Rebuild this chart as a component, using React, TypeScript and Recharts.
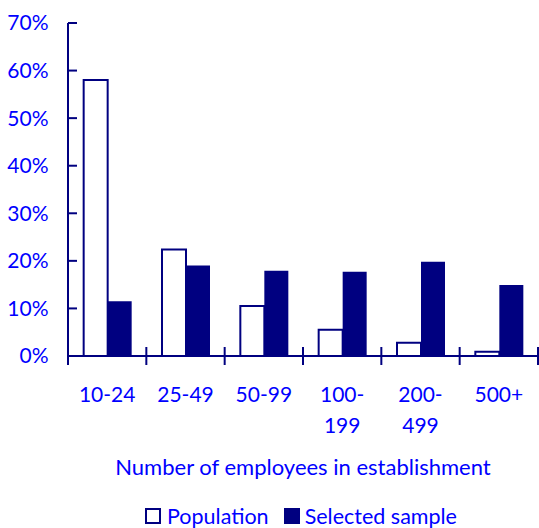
import React from 'react';
import { BarChart, Bar, XAxis, YAxis, Legend } from 'recharts';

const CATEGORIES = ['10-24', '25-49', '50-99', '100-199', '200-499', '500+'];
const POPULATION = [58.0, 22.4, 10.5, 5.5, 2.8, 0.9];
const SELECTED = [11.5, 19.0, 17.9, 17.7, 19.8, 14.9];
const Y_TICKS = [0, 10, 20, 30, 40, 50, 60, 70];

const NAVY = '#000080';
const BLUE = '#0000ff';
const FONT = 'Lato, "Open Sans", sans-serif';

const data = CATEGORIES.map((name, i) => ({
  name,
  population: POPULATION[i],
  selected: SELECTED[i],
}));

const axisStroke = { stroke: NAVY, strokeWidth: 2 };
// axes must have a non-zero height to render; keep them practically flat
const FLAT = 0.01;
const X_LABEL_GAP = 31;
const Y_LABEL_GAP = 19.5;
const TICK_LEN = 9;

// Category label, wrapped after the hyphen for "100-199" style ranges,
// plus the cross tick marks on the category boundaries.
const CategoryTick = ({ x, y, payload, index, width, visibleTicksCount }: any) => {
  const value: string = payload.value;
  const m = value.match(/^(\d{3}-)(\d+)$/);
  const lines = m ? [m[1], m[2]] : [value];
  const band = width / visibleTicksCount;
  const axisY = y - X_LABEL_GAP;
  const edges = index === visibleTicksCount - 1 ? [x - band / 2, x + band / 2] : [x - band / 2];
  return (
    <g>
      {edges.map((ex, i) => (
        <line key={i} x1={ex} x2={ex} y1={axisY - TICK_LEN} y2={axisY + TICK_LEN} stroke={NAVY} strokeWidth={2} />
      ))}
      <text x={x} y={y} textAnchor="middle" fill={BLUE} fontSize={21} fontFamily={FONT}>
        {lines.map((line, i) => (
          <tspan key={i} x={x} dy={i === 0 ? '0.71em' : 30.7}>
            {line}
          </tspan>
        ))}
      </text>
    </g>
  );
};

// Percent label with the tick mark pointing into the plot
const PercentTick = ({ x, y, payload }: any) => {
  const axisX = x + Y_LABEL_GAP;
  return (
    <g>
      <line x1={axisX} x2={axisX + TICK_LEN} y1={y} y2={y} stroke={NAVY} strokeWidth={2} />
      <text x={x} y={y} dy="0.355em" textAnchor="end" fill={BLUE} fontSize={21} fontFamily={FONT}>
        {`${payload.value}%`}
      </text>
    </g>
  );
};

const LegendContent = () => (
  <div
    style={{
      height: 24,
      lineHeight: '24px',
      display: 'flex',
      justifyContent: 'center',
      alignItems: 'center',
      paddingLeft: 64,
      fontFamily: FONT,
      fontSize: 21.5,
      color: BLUE,
    }}
  >
    <span style={{ width: 12, height: 12, border: `2px solid ${NAVY}`, background: '#fff', marginRight: 6 }} />
    <span style={{ marginRight: 15 }}>Population</span>
    <span style={{ width: 16, height: 16, background: NAVY, marginRight: 5 }} />
    <span>Selected sample</span>
  </div>
);

export default function App() {
  return (
    <div style={{ position: 'absolute', left: 0, top: 0, width: 539, height: 528, background: '#fff', fontFamily: FONT }}>
      <BarChart
        width={539}
        height={528}
        data={data}
        margin={{ top: 23, right: 1, left: 0, bottom: 148 }}
        barCategoryGap="20%"
        barGap={0}
      >
        <XAxis
          dataKey="name"
          height={FLAT}
          interval={0}
          axisLine={axisStroke}
          tickLine={false}
          tickSize={0}
          tickMargin={X_LABEL_GAP}
          tick={<CategoryTick />}
          label={{
            value: 'Number of employees in establishment',
            position: 'bottom',
            offset: 103,
            fill: BLUE,
            fontSize: 22,
            fontFamily: FONT,
          }}
        />
        <YAxis
          type="number"
          domain={[0, 70]}
          ticks={Y_TICKS}
          interval={0}
          width={68}
          axisLine={axisStroke}
          tickLine={false}
          tickSize={0}
          tickMargin={Y_LABEL_GAP}
          tick={<PercentTick />}
        />
        <Legend verticalAlign="bottom" wrapperStyle={{ bottom: 0 }} content={<LegendContent />} />
        <Bar
          dataKey="population"
          name="Population"
          fill="#ffffff"
          stroke={NAVY}
          strokeWidth={2}
          isAnimationActive={false}
        />
        <Bar dataKey="selected" name="Selected sample" fill={NAVY} isAnimationActive={false} />
      </BarChart>
    </div>
  );
}
